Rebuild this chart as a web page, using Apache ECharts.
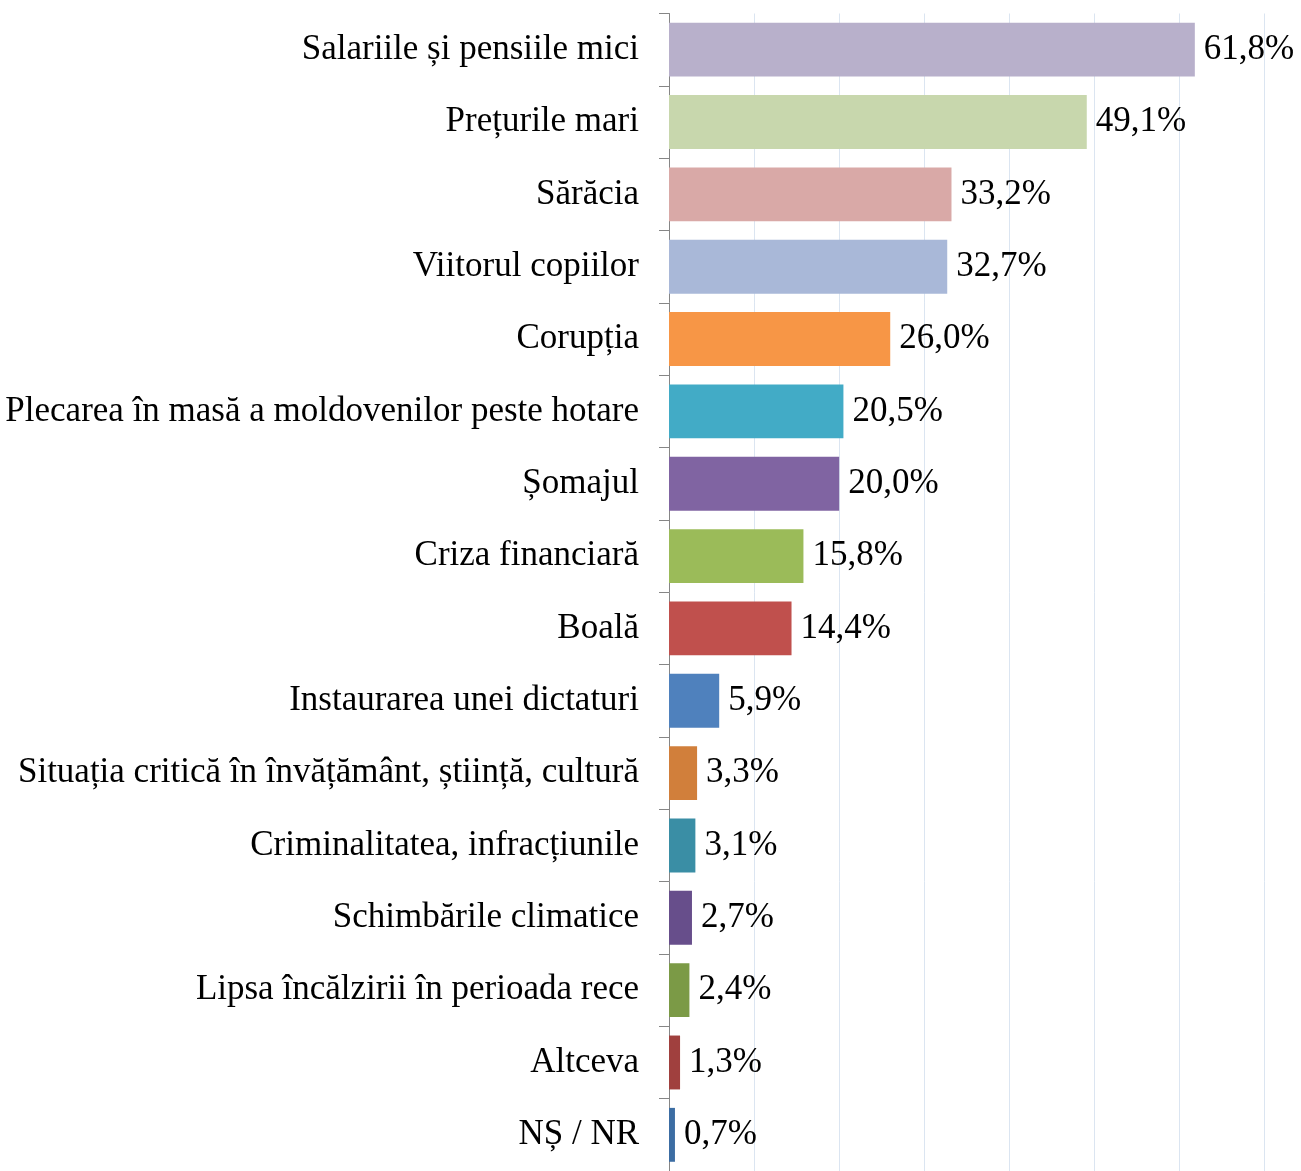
<!DOCTYPE html>
<html>
<head>
<meta charset="utf-8">
<script src="https://cdn.jsdelivr.net/npm/echarts@6/dist/echarts.min.js"></script>
<style>
html,body{margin:0;padding:0;background:#fff;}
#chart{width:1301px;height:1171px;}
</style>
</head>
<body>
<div id="chart"></div>
<script>
const categories = [
  "Salariile și pensiile mici",
  "Prețurile mari",
  "Sărăcia",
  "Viitorul copiilor",
  "Corupția",
  "Plecarea în masă a moldovenilor peste hotare",
  "Șomajul",
  "Criza financiară",
  "Boală",
  "Instaurarea unei dictaturi",
  "Situația critică în învățământ, știință, cultură",
  "Criminalitatea, infracțiunile",
  "Schimbările climatice",
  "Lipsa încălzirii în perioada rece",
  "Altceva",
  "NȘ / NR"
];
const values = [61.8, 49.1, 33.2, 32.7, 26.0, 20.5, 20.0, 15.8, 14.4, 5.9, 3.3, 3.1, 2.7, 2.4, 1.3, 0.7];
const barColors = ["#b8b0cb","#c8d7ad","#d9a9a7","#a9b8d8","#f79646","#42abc6","#8064a2","#9bbb59",
  "#c0504d","#4f81bd","#d17f3b","#3a8ea5","#674e8b","#7b9a46","#a0403e","#3c6da3"];

const FONT = "'Liberation Serif','Times New Roman',serif";
const chart = echarts.init(document.getElementById('chart'));
chart.setOption({
  animation: false,
  backgroundColor: '#ffffff',
  grid: { left: 669, top: 13.5, width: 595.6, height: 1164, containLabel: false },
  xAxis: {
    type: 'value', min: 0, max: 70, interval: 10,
    axisLabel: { show: false },
    axisLine: { show: false },
    axisTick: { show: false },
    splitLine: { show: true, lineStyle: { color: '#dbe5f1', width: 1 } }
  },
  yAxis: {
    type: 'category', data: categories, inverse: true,
    axisLine: { show: true, lineStyle: { color: '#868686', width: 1 } },
    axisTick: { show: true, length: 10, lineStyle: { color: '#868686' } },
    axisLabel: { margin: 30, color: '#000', fontFamily: FONT, fontSize: 35, padding: [4, 0, 0, 0] }
  },
  series: [{
    type: 'bar',
    data: values.map((v, i) => ({ value: v, itemStyle: { color: barColors[i] } })),
    barCategoryGap: '25.5%',
    label: {
      show: true, position: 'right', distance: 9,
      color: '#000', fontFamily: FONT, fontSize: 35, padding: [4, 0, 0, 0],
      formatter: p => p.value.toFixed(1).replace('.', ',') + '%'
    }
  }]
});
</script>
</body>
</html>
